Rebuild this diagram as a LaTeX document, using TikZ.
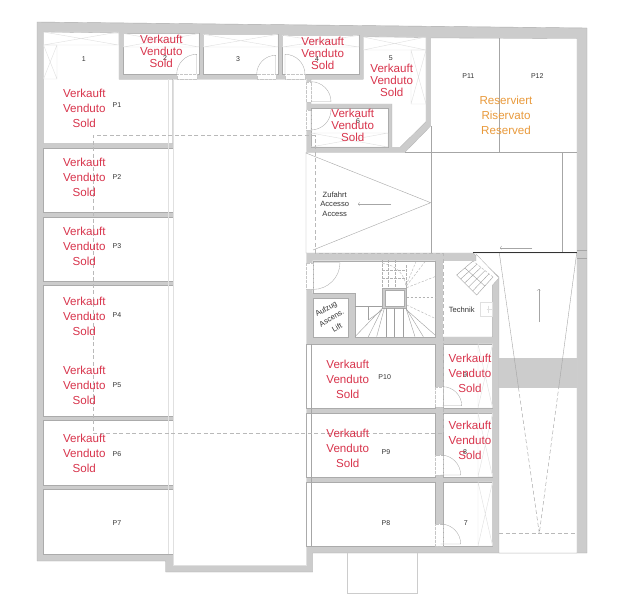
\documentclass[tikz,border=0pt]{standalone}
\usepackage{fontspec}
\setmainfont{Liberation Sans}
\usetikzlibrary{calc}

\definecolor{wallgrey}{HTML}{CCCCCC}
\definecolor{wallline}{HTML}{ABABAB}
\definecolor{storegrey}{HTML}{E0E0E0}
\definecolor{soldred}{HTML}{D8344C}
\definecolor{resorange}{HTML}{E99A3C}
\definecolor{lblgrey}{HTML}{333333}

\newcommand{\doorleaf}[4]{\draw[doorline] (#1) .. controls ($(#1)!.55!(#2)$) and ($(#3)!.55!(#2)$) .. (#3) -- (#4);}

\begin{document}
\begin{tikzpicture}[x=1pt, y=-1pt,
    wall/.style={fill=wallgrey, draw=wallline, line width=.4pt},
    room/.style={fill=white, draw=wallline, line width=.3pt},
    gap/.style={fill=white, draw=gray!45, line width=.3pt, densely dotted},
    doorline/.style={draw=wallline, line width=.35pt},
    thinline/.style={draw=gray!70, line width=.4pt},
    storeline/.style={draw=storegrey, line width=.4pt},
    planned/.style={draw=gray!55, line width=.45pt, dash pattern=on 4pt off 2.5pt},
    stepline/.style={draw=gray!75, line width=.4pt},
    stepdash/.style={draw=gray!60, line width=.4pt, dash pattern=on 2.5pt off 1.5pt},
    lbl/.style={text=lblgrey, inner sep=0pt, font=\fontsize{7}{9}\selectfont},
    lblwide/.style={text=lblgrey, inner sep=0pt, align=center, font=\fontsize{7.6}{9.3}\selectfont},
    liftlbl/.style={text=lblgrey, inner sep=0pt, align=center, font=\fontsize{7.6}{11}\selectfont},
    sold/.style={text=soldred, inner sep=0pt, align=center, font=\fontsize{11.6}{15}\selectfont},
    soldtight/.style={text=soldred, inner sep=0pt, align=center, font=\fontsize{11.6}{12}\selectfont},
    reserved/.style={text=resorange, inner sep=0pt, align=center, font=\fontsize{11.6}{15}\selectfont}]
    \useasboundingbox (0,0) rectangle (641,600);

    % building outline
    \draw[wall] (37,22) -- (587,28) -- (587,553) -- (312.7,553) -- (312.7,572) -- (165.7,572) -- (165.7,561) -- (37,561) -- cycle;

    % parking row on the left and the driveway
    \draw[room] (43.5,32) -- (119,33) -- (119,79.3) -- (172.7,79.3) -- (172.7,143.3) -- (43.5,143.3) -- cycle;
    \foreach \ya/\yb in {148/212.3, 216.7/281, 285.5/415.7, 420/485, 489.3/553.7}{
        \draw[room] (43.5,\ya) rectangle (172.7,\yb);
    }
    \draw[room, draw=storegrey] (172.7,79.3) rectangle (305.7,565);

    % cellars along the top
    \draw[room] (123.3,33.5) rectangle (199,74.3);
    \draw[room] (203.3,34.3) rectangle (278,74.3);
    \draw[room] (282.3,35.3) rectangle (359.3,74.3);
    \draw[room] (311,79.3) -- (363.3,79.3) -- (363.3,36.7) -- (426,37.5) -- (426,121.7) -- (400,147.3) -- (392,147.3) -- (392,104) -- (311,104) -- cycle;
    \draw[room] (311,108) rectangle (388,147.3);

    % access ramp and P11, P12
    \draw[room] (430.7,38) -- (577,38.5) -- (577,253) -- (306,253) -- (306,152.3) -- (405,152.3) -- (430.7,126) -- cycle;
    \draw[room] (473,253) -- (577,253) -- (577,553) -- (499,553) -- (499,277) -- cycle;
    \fill[wallgrey] (499.3,358.3) rectangle (577,387.7);

    % core with stairs, lift and Technik
    \draw[room] (312.7,260.7) -- (435,260.7) -- (435,337) -- (355,337) -- (355,293) -- (312.7,293) -- cycle;
    \draw[room] (312.7,298) rectangle (348,336.7);
    \draw[room] (442.7,260.7) -- (476,260.7) -- (476,254) -- (499,278) -- (492.6,285) -- (492.6,337) -- (442.7,337) -- cycle;

    % lower parking and cellars
    \foreach \ya/\yb in {343.7/408, 413/476.7, 481.7/546}{
        \draw[room] (305.7,\ya) rectangle (435,\yb);
        \draw[room] (442.7,\ya) rectangle (492.6,\yb);
    }

    % door gaps in the walls
    \foreach \xa/\ya/\xb/\yb in {176.7/74.3/196.7/79.3, 256.7/74.3/275.7/79.3, 285/74.3/305/79.3, 306/81.7/311/102, 306/110/311/130, 306/262.7/313/289.4, 435/386.7/442.7/407, 435/455/442.7/475, 435/524/442.7/546}{
        \draw[gap] (\xa,\ya) rectangle (\xb,\yb);
    }
    \doorleaf{176.7,74.3}{176.7,54.3}{196.7,54.3}{196.7,74.3}
    \doorleaf{256.7,74.3}{256.7,55.3}{275.7,55.3}{275.7,74.3}
    \doorleaf{305,74.3}{305,54.3}{285,54.3}{285,74.3}
    \doorleaf{311,81.7}{331,81.7}{331,101.7}{311,101.7}
    \doorleaf{331,110}{331,130}{311,130}{311,110}
    \doorleaf{313.3,289.4}{340,289.4}{340,262.7}{313.3,262.7}
    \doorleaf{442.7,386.7}{461.7,386.7}{461.7,405.7}{442.7,405.7}
    \doorleaf{440.7,455}{460.7,455}{460.7,475}{440.7,475}
    \doorleaf{440.7,524}{460.7,524}{460.7,544}{440.7,544}

    % storage racks
    \foreach \xa/\ya/\xb/\yb in {43.5/32/118.5/45, 43.5/45/57/79, 123.3/33.5/199/47, 203.3/34.3/278/47, 282.3/35.3/359/47, 363.3/37/426/50, 411/50/426/104, 311/133/388/147, 478/343.7/492.6/408, 478/413/492.6/476.7, 478/481.7/492.6/546}{
        \draw[storeline] (\xa,\ya) rectangle (\xb,\yb) (\xa,\ya) -- (\xb,\yb) (\xa,\yb) -- (\xb,\ya);
    }

    % thin lines of the driveway and the ramp
    \draw[storeline] (167.7,79.3) -- (167.7,553.7);
    \draw[thinline] (311,343.7) -- (311,546);
    \draw[thinline] (405,152.3) -- (577,152.3);
    \draw[thinline] (430.7,126) -- (430.7,253);
    \draw[thinline] (499.5,38) -- (499.5,152.3);
    \draw[thinline] (561.7,152.3) -- (561.7,252);
    \draw[thinline] (306,153) -- (430.7,202.7) -- (313,250);
    \draw[line width=.7pt, draw=black!80] (473,252.5) -- (577,252.5);
    \draw[thinline] (499.3,253) -- (518.5,387.7);
    \draw[thinline] (576.7,253) -- (558.7,387.7);
    \draw[planned, draw=gray!70] (518.5,387.7) -- (539.3,533.3) -- (558.7,387.7);
    \draw[planned] (499.3,533.3) -- (577,533.3);
    \draw[storeline, draw=gray!40] (346.7,553) -- (346.7,592.7) -- (416.7,592.7) -- (416.7,553);
    \draw[thinline] (577,250) -- (587,250) (577,258) -- (587,258);

    % dashed outline of the floor above
    \draw[planned] (315,253) -- (315,135.7) -- (93,135.7) -- (93,433) -- (443,433) -- (443,253) -- cycle;

    % stairs
    \begin{scope}[shift={(305,255)}, scale=1/3]
        \draw[fill=wallgrey, draw=wallline, line width=.3pt] (232,98) rectangle (303,160);
        \draw[fill=white, draw=wallline, line width=.3pt] (240,106) rectangle (296,153);
        \foreach \xa/\ya/\xb/\yb in {232/15/232/98, 250/15/250/98, 270/15/270/98, 303/30/303/98, 232/45/300/45, 232/70/303/70, 303/92/335/15, 305/92/360/20, 305/98/390/65, 305/128/390/128, 305/150/390/190}{
            \draw[stepdash] (\xa,\ya) -- (\xb,\yb);
        }
        \draw[stepdash] (232,25) .. controls (275,30) and (300,60) .. (303,95);
        \foreach \xa/\ya/\xb/\yb in {150/155/232/155, 190/155/190/195, 232/160/150/245, 190/195/232/165, 232/160/190/245, 238/160/215/245, 245/160/245/245, 268/160/268/245, 295/160/295/245, 303/160/330/245, 303/160/355/245, 303/163/390/240}{
            \draw[stepline] (\xa,\ya) -- (\xb,\yb);
        }
        % small stair next to Technik
        \coordinate (stairA) at (504,18);
        \coordinate (stairB) at (455,60);
        \coordinate (stairC) at (515,120);
        \coordinate (stairD) at (564,66);
        \draw[stepline] (stairA) -- (stairB) -- (stairC) -- (stairD);
        \foreach \t in {.2,.4,.6,.8}{
            \draw[stepline] ($(stairB)!\t!(stairC)$) -- ($(stairA)!\t!(stairD)$);
        }
        \draw[stepline] ($(stairA)!.5!(stairB)$) -- ($(stairD)!.5!(stairC)$);
        \draw[stepdash] (stairD) -- (stairA);
        \draw[storeline] (525,141) rectangle (563,185) (545,163) -- (563,163) (550,152) -- (550,174);
    \end{scope}

    % arrows
    \coordinate (zufahrtstart) at (391,204);
    \coordinate (zufahrtend) at (358,204);
    \coordinate (topstart) at (532,247.7);
    \coordinate (topend) at (500,247.7);
    \coordinate (rampstart) at (538.7,322);
    \coordinate (rampend) at (538.7,289);
    \draw[->, thinline] (zufahrtstart) -- (zufahrtend);
    \draw[->, thinline] (topstart) -- (topend);
    \draw[->, thinline] (rampstart) -- (rampend);

    % room numbers
    \node (cell1) at (83.7,58.7) [lbl] {1};
    \node (cell2) at (165,58) [lbl] {2};
    \node (cell3) at (238,58.7) [lbl] {3};
    \node (cell4) at (317,58.7) [lbl] {4};
    \node (cell5) at (390.7,58) [lbl] {5};
    \node (cell6) at (358,121) [lbl] {6};
    \node (cell7) at (465.7,523) [lbl] {7};
    \node (cell8) at (465,451.7) [lbl] {8};
    \node (cell9) at (465,375) [lbl] {9};
    \node (park1) at (117,105) [lbl] {P1};
    \node (park2) at (117,176.7) [lbl] {P2};
    \node (park3) at (117,246) [lbl] {P3};
    \node (park4) at (117,315) [lbl] {P4};
    \node (park5) at (117,385) [lbl] {P5};
    \node (park6) at (117,453.7) [lbl] {P6};
    \node (park7) at (117,523) [lbl] {P7};
    \node (park8) at (386,523) [lbl] {P8};
    \node (park9) at (386,451.7) [lbl] {P9};
    \node (park10) at (384.7,376.7) [lbl] {P10};
    \node (park11) at (468.3,76) [lbl] {P11};
    \node (park12) at (537.3,76) [lbl] {P12};
    \node (technik) at (461.7,310) [lblwide] {Technik};
    \node (zufahrt) at (334.7,204) [lblwide] {Zufahrt\\Accesso\\Access};
    \node (lift) at (331.5,318) [liftlbl, rotate=30] {Aufzug\\Ascens.\\Lift};

    % sale status
    \node (soldp1) at (84.3,108) [sold] {Verkauft\\Venduto\\Sold};
    \node (soldp2) at (84.3,177) [sold] {Verkauft\\Venduto\\Sold};
    \node (soldp3) at (84.3,246) [sold] {Verkauft\\Venduto\\Sold};
    \node (soldp4) at (84.3,316) [sold] {Verkauft\\Venduto\\Sold};
    \node (soldp5) at (84.3,385) [sold] {Verkauft\\Venduto\\Sold};
    \node (soldp6) at (84.3,453.7) [sold] {Verkauft\\Venduto\\Sold};
    \node (soldp9) at (347.7,448.3) [sold] {Verkauft\\Venduto\\Sold};
    \node (soldp10) at (347.7,379.3) [sold] {Verkauft\\Venduto\\Sold};
    \node (soldc2) at (161.3,51.5) [soldtight] {Verkauft\\Venduto\\Sold};
    \node (soldc4) at (322.7,53) [soldtight] {Verkauft\\Venduto\\Sold};
    \node (soldc5) at (391.7,80) [soldtight] {Verkauft\\Venduto\\Sold};
    \node (soldc6) at (352.7,125.7) [soldtight] {Verkauft\\Venduto\\Sold};
    \node (soldc8) at (470,440.7) [sold] {Verkauft\\Venduto\\Sold};
    \node (soldc9) at (470,373.7) [sold] {Verkauft\\Venduto\\Sold};
    \node (resp11) at (506,115) [reserved] {Reserviert\\Riservato\\Reserved};
\end{tikzpicture}
\end{document}
